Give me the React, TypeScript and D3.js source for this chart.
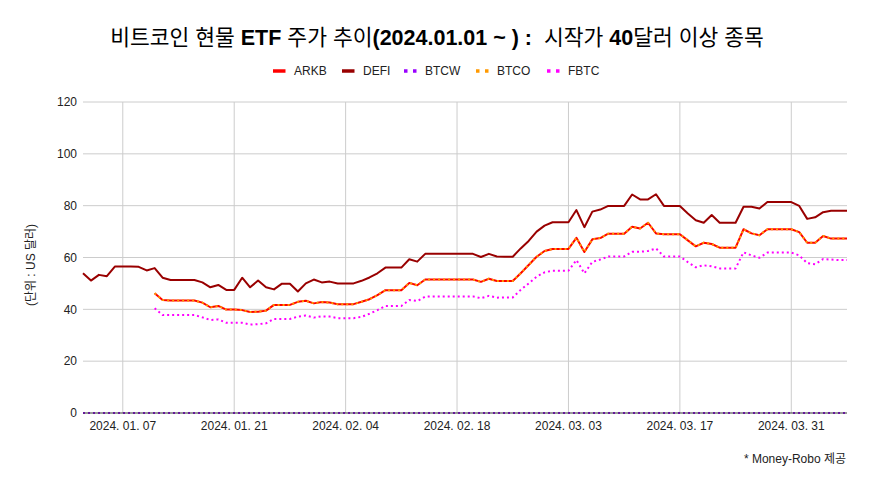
import React from 'react';
import * as d3 from 'd3';

// daily rows from 2024-01-02 to 2024-04-07 (97 rows)
const startDay = new Date(2024, 0, 2);
const endDay = new Date(2024, 3, 8);

const xTickDays = ['2024-01-07', '2024-01-21', '2024-02-04', '2024-02-18', '2024-03-03', '2024-03-17', '2024-03-31'];
const yTicks = [0, 20, 40, 60, 80, 100, 120];

const seriesNames = ['ARKB', 'DEFI', 'BTCW', 'BTCO', 'FBTC'];
const seriesColors = ['#ff0000', '#990000', '#9900ff', '#ff9900', '#ff00ff'];

const arkb = [
  null, null, null, null, null, null, null, null, null, 46.2,
  43.6, 43.4, 43.4, 43.4, 43.4, 42.6, 40.8, 41.3, 39.9, 39.9,
  39.7, 39.0, 39.1, 39.5, 41.7, 41.7, 41.7, 42.9, 43.3, 42.3,
  42.8, 42.6, 42.0, 42.0, 42.0, 42.9, 43.9, 45.5, 47.4, 47.4,
  47.4, 50.2, 49.3, 51.5, 51.5, 51.5, 51.5, 51.5, 51.5, 51.5,
  50.6, 51.8, 50.9, 50.9, 50.9, 53.9, 57.1, 60.3, 62.5, 63.3,
  63.3, 63.3, 67.6, 62.1, 67.0, 67.5, 69.2, 69.2, 69.2, 71.9,
  71.2, 73.4, 69.3, 69.0, 69.0, 69.0, 66.6, 64.3, 65.7, 65.2,
  63.8, 63.8, 63.8, 70.9, 69.3, 68.6, 70.9, 70.9, 70.9, 70.9,
  69.8, 65.7, 65.7, 68.3, 67.3, 67.3, 67.3,
];

const defi = [
  53.9, 51.1, 53.3, 52.8, 56.5, 56.5, 56.5, 56.4, 55.0, 55.9,
  52.2, 51.3, 51.3, 51.3, 51.3, 50.4, 48.5, 49.4, 47.5, 47.5,
  52.2, 48.5, 51.1, 48.5, 47.7, 49.9, 49.9, 46.9, 50.0, 51.5,
  50.4, 50.7, 50.0, 50.0, 50.0, 51.0, 52.3, 53.9, 56.1, 56.1,
  56.1, 59.3, 58.4, 61.4, 61.4, 61.4, 61.4, 61.4, 61.4, 61.4,
  60.2, 61.4, 60.4, 60.3, 60.3, 63.5, 66.4, 70.0, 72.3, 73.6,
  73.6, 73.6, 78.3, 71.7, 77.7, 78.5, 79.9, 79.9, 79.9, 84.3,
  82.4, 82.4, 84.4, 79.9, 79.9, 79.9, 77.0, 74.4, 73.4, 76.4,
  73.4, 73.4, 73.4, 79.6, 79.6, 78.9, 81.4, 81.4, 81.4, 81.4,
  79.9, 74.9, 75.5, 77.5, 78.0, 78.0, 78.0,
];

const btcw = [
  0, 0, 0, 0, 0, 0, 0, 0, 0, 0,
  0, 0, 0, 0, 0, 0, 0, 0, 0, 0,
  0, 0, 0, 0, 0, 0, 0, 0, 0, 0,
  0, 0, 0, 0, 0, 0, 0, 0, 0, 0,
  0, 0, 0, 0, 0, 0, 0, 0, 0, 0,
  0, 0, 0, 0, 0, 0, 0, 0, 0, 0,
  0, 0, 0, 0, 0, 0, 0, 0, 0, 0,
  0, 0, 0, 0, 0, 0, 0, 0, 0, 0,
  0, 0, 0, 0, 0, 0, 0, 0, 0, 0,
  0, 0, 0, 0, 0, 0, 0,
];

const btco = [
  null, null, null, null, null, null, null, null, null, 46.2,
  43.6, 43.4, 43.4, 43.4, 43.4, 42.6, 40.8, 41.3, 39.9, 39.9,
  39.7, 39.0, 39.1, 39.5, 41.7, 41.7, 41.7, 42.9, 43.3, 42.3,
  42.8, 42.6, 42.0, 42.0, 42.0, 42.9, 43.9, 45.5, 47.4, 47.4,
  47.4, 50.2, 49.3, 51.5, 51.5, 51.5, 51.5, 51.5, 51.5, 51.5,
  50.6, 51.8, 50.9, 50.9, 50.9, 53.9, 57.1, 60.3, 62.5, 63.3,
  63.3, 63.3, 67.6, 62.1, 67.0, 67.5, 69.2, 69.2, 69.2, 71.9,
  71.2, 73.4, 69.3, 69.0, 69.0, 69.0, 66.6, 64.3, 65.7, 65.2,
  63.8, 63.8, 63.8, 70.9, 69.3, 68.6, 70.9, 70.9, 70.9, 70.9,
  69.8, 65.7, 65.7, 68.3, 67.3, 67.3, 67.3,
];

const fbtc = [
  null, null, null, null, null, null, null, null, null, 40.4,
  37.8, 37.8, 37.8, 37.8, 37.8, 36.9, 35.9, 36.1, 34.8, 34.8,
  34.8, 34.1, 34.3, 34.6, 36.3, 36.3, 36.3, 37.2, 37.6, 36.8,
  37.3, 37.2, 36.6, 36.6, 36.6, 37.1, 38.3, 39.7, 41.3, 41.3,
  41.3, 43.6, 43.2, 44.9, 45.0, 45.0, 45.0, 45.0, 45.0, 45.0,
  44.3, 45.2, 44.5, 44.6, 44.6, 47.5, 50.0, 52.6, 54.3, 54.9,
  54.9, 54.9, 59.0, 53.9, 58.3, 59.2, 60.4, 60.4, 60.4, 62.2,
  62.2, 62.5, 63.5, 60.4, 60.4, 60.4, 58.2, 56.2, 57.0, 56.6,
  55.8, 55.8, 55.8, 62.0, 60.8, 59.9, 61.9, 61.9, 61.9, 61.9,
  60.8, 57.8, 57.4, 59.4, 59.2, 59.0, 59.0,
];

const seriesValues = [arkb, defi, btcw, btco, fbtc];
const dashes = [null, null, '2,3', '2,3', '2,3'];

const W = 872;
const H = 491;
const left = 83;
const right = 847;
const top = 102;
const bottom = 413;
const latin = "'Liberation Sans', Arial, 'Noto Sans CJK KR', sans-serif";

export default function App() {
  const days = d3.timeDay.range(startDay, endDay);
  const x = d3.scaleTime().domain([days[0], days[days.length - 1]]).range([left, right]);
  const y = d3.scaleLinear().domain([0, 120]).range([bottom, top]);
  const parse = d3.timeParse('%Y-%m-%d');
  const fmt = d3.timeFormat('%Y. %m. %d');
  const tickDays = xTickDays.map(s => parse(s)!);

  const line = d3.line<number | null>()
    .defined(d => d !== null)
    .x((_, i) => x(days[i]))
    .y(d => y(d as number));

  // legend layout
  const legendX = [273, 342, 404, 476, 547];
  const legendY = 71;

  return (
    <svg width={W} height={H} style={{ position: 'absolute', left: 0, top: 0, background: '#fff', fontFamily: latin }}>
      <rect width={W} height={H} fill="#fff" />
      <text x={437} y={45} textAnchor="middle" fontSize={21.5} fill="#000" style={{ whiteSpace: 'pre' }}>
        <tspan>비트코인 현물 </tspan>
        <tspan fontWeight="bold">ETF</tspan>
        <tspan> 주가 추이</tspan>
        <tspan fontWeight="bold">(2024.01.01 ~ ) :</tspan>
        <tspan>  시작가 </tspan>
        <tspan fontWeight="bold">40</tspan>
        <tspan>달러 이상 종목</tspan>
      </text>

      {seriesNames.map((name, k) => (
        <g key={name}>
          <line
            x1={legendX[k]} x2={legendX[k] + 12.5} y1={legendY} y2={legendY}
            stroke={seriesColors[k]} strokeWidth={3.5}
            strokeDasharray={dashes[k] ? '3.5,5.5' : undefined}
          />
          <text x={legendX[k] + 21} y={legendY} dy="0.35em" fontSize={12} fill="#222">{name}</text>
        </g>
      ))}

      {yTicks.map(t => (
        <g key={t}>
          {t > 0 && <line x1={left} x2={right} y1={y(t)} y2={y(t)} stroke="#cccccc" strokeWidth={1} />}
          <text x={77} y={y(t)} dy="0.35em" textAnchor="end" fontSize={12} fill="#222">{t}</text>
        </g>
      ))}
      {tickDays.map(d => (
        <g key={d.toISOString()}>
          <line x1={x(d)} x2={x(d)} y1={top} y2={bottom} stroke="#cccccc" strokeWidth={1} />
          <text x={x(d)} y={430} textAnchor="middle" fontSize={12} fill="#222">{fmt(d)}</text>
        </g>
      ))}

      {seriesValues.map((vals, k) => (
        <path
          key={seriesNames[k]}
          d={line(vals) || ''}
          fill="none"
          stroke={seriesColors[k]}
          strokeWidth={2}
          strokeDasharray={dashes[k] || undefined}
          strokeLinejoin="round"
        />
      ))}
      <line x1={left} x2={right} y1={bottom} y2={bottom} stroke="#333" strokeWidth={1} />

      <text transform="translate(35,265) rotate(-90)" textAnchor="middle" fontSize={12} fill="#222">(단위 : US 달러)</text>
      <text x={846} y={463} textAnchor="end" fontSize={12} fill="#222">* Money-Robo 제공</text>
    </svg>
  );
}
